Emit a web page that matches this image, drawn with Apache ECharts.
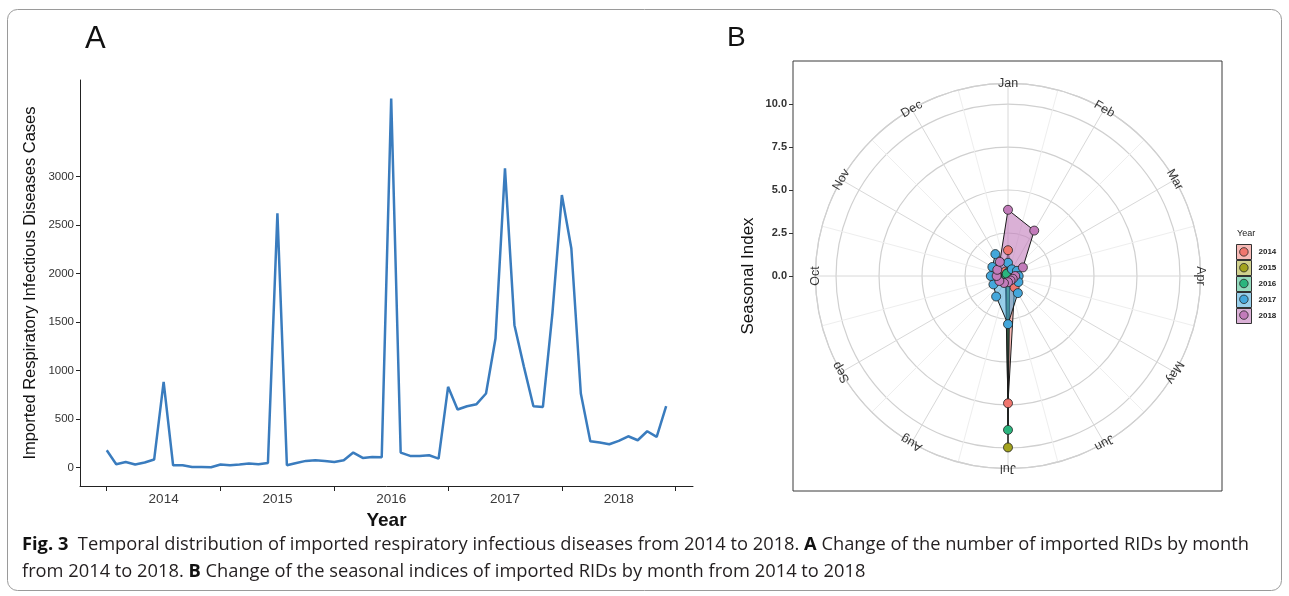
<!DOCTYPE html>
<html><head><meta charset="utf-8">
<script src="https://cdn.jsdelivr.net/npm/echarts@6/dist/echarts.min.js"></script>
<style>html,body{margin:0;padding:0;background:#fff;}#c{width:1289px;height:596px;}</style>
</head><body><div id="c"></div>
<script>
// ---- Panel A: monthly imported RID cases, Jul 2013 .. Jun 2018 (index 0 = Jul 2013)
const CASES = [179,34,58,31,52,83,884,24,24,7,5,3,
  31,24,31,41,34,48,2622,24,48,69,76,69,
  58,76,155,100,110,107,3808,155,120,120,127,93,
  833,599,633,654,764,1331,3086,1469,1039,633,626,1589,
  2811,2260,764,272,258,241,275,323,282,375,317,633];
const YEAR_LABELS = ['2014','2015','2016','2017','2018'];
const YEAR_LABEL_POS = [6,18,30,42,54];      // January of each year
const YEAR_TICK_POS = [0,12,24,36,48,60];     // July of each year
const Y_TICKS = [0,500,1000,1500,2000,2500,3000];

// ---- Panel B: seasonal indices by month
const MONTHS = ['Jan','Feb','Mar','Apr','May','Jun','Jul','Aug','Sep','Oct','Nov','Dec'];
const YEARS = ['2014','2015','2016','2017','2018'];
const SI_2014 = [1.50,0.35,0.30,0.28,0.45,0.77,7.40,0.30,0.22,0.20,0.25,0.30];
const SI_2015 = [0.15,0.12,0.10,0.10,0.12,0.15,9.97,0.15,0.12,0.10,0.10,0.12];
const SI_2016 = [0.20,0.15,0.12,0.12,0.15,0.18,8.95,0.18,0.15,0.12,0.12,0.15];
const SI_2017 = [0.77,0.45,0.60,0.62,0.70,1.15,2.80,1.38,0.98,1.00,1.05,1.47];
const SI_2018 = [3.85,3.05,1.00,0.42,0.32,0.30,0.36,0.47,0.58,0.66,0.72,0.95];
const SI_TICKS = [0,2.5,5,7.5,10];

const SI = [SI_2014,SI_2015,SI_2016,SI_2017,SI_2018];
const COLORS = ['#F0766E','#A3A31E','#2BB57E','#44A7DB','#C27BBA'];
const FILLS = ['rgba(240,118,110,0.5)','rgba(163,163,30,0.5)','rgba(43,181,126,0.5)','rgba(68,167,219,0.55)','rgba(194,123,186,0.6)'];
const R_MAX = 11.2, R_PX = 192.6, CX = 1008, CY = 276;
const HALF = 215 * R_MAX / R_PX;

const FONT = 'Liberation Sans, Arial, sans-serif';
const chart = echarts.init(document.getElementById('c'));

const series = [];
series.push({
  type:'line', xAxisIndex:0, yAxisIndex:0, data: CASES.map((v,i)=>[i,v]),
  showSymbol:false, lineStyle:{color:'#3A7CBE', width:2.5}, itemStyle:{color:'#3A7CBE'}, silent:true
});
SI.forEach((vals, k) => {
  series.push({
    type:'custom', name: YEARS[k], coordinateSystem:'polar', polarIndex:0, z:2, silent:true,
    data: vals.map((v,i)=>[v,i]),
    renderItem: function(params, api){
      if (params.dataIndex !== 0) return null;
      const pts = vals.map((v,i)=>api.coord([v,i]));
      return {type:'polygon', shape:{points:pts}, style:{fill:FILLS[k], stroke:'#1a1a1a', lineWidth:1}};
    }
  });
});
SI.forEach((vals, k) => {
  series.push({
    type:'scatter', name: YEARS[k], coordinateSystem:'polar', polarIndex:0, z:3, silent:true,
    data: vals.map((v,i)=>[v,i]), symbolSize:9,
    itemStyle:{color:COLORS[k], borderColor:'#222', borderWidth:0.8, opacity:1}
  });
});
series.push({
  type:'scatter', name:'months', coordinateSystem:'polar', polarIndex:0, z:4, silent:true,
  symbolSize:1, itemStyle:{color:'rgba(0,0,0,0)'},
  data: MONTHS.map((m,i)=>({value:[R_MAX,i], label:{rotate:-30*i}})),
  label:{show:true, position:'inside', formatter:(p)=>MONTHS[p.dataIndex], fontFamily:FONT, fontSize:12.5, color:'#000'}
});

const option = {
  animation:false,
  backgroundColor:'#fff',
  grid:[
    {left:80, top:80, width:613, height:406, show:false},
    {left:793, top:61, width:429, height:430, show:true, borderColor:'#3a3a3a', borderWidth:1, backgroundColor:'rgba(0,0,0,0)'}
  ],
  xAxis:[
    {type:'value', gridIndex:0, min:-2.82, max:61.83,
     axisLine:{show:true, onZero:false, lineStyle:{color:'#222', width:1}},
     axisTick:{show:true, length:5, lineStyle:{color:'#222'}, customValues: YEAR_TICK_POS},
     axisLabel:{customValues: YEAR_LABEL_POS, formatter:(v)=>YEAR_LABELS[YEAR_LABEL_POS.indexOf(Math.round(v))], fontFamily:FONT, fontSize:13.5, color:'#3a3a3a', margin:6},
     splitLine:{show:false},
     name:'Year', nameLocation:'middle', nameGap:23, nameTextStyle:{fontFamily:FONT, fontSize:19, fontWeight:'bold', color:'#111'}},
    {type:'value', gridIndex:1, min:0, max:1, show:false}
  ],
  yAxis:[
    {type:'value', gridIndex:0, min:-190, max:3998,
     axisLine:{show:true, onZero:false, lineStyle:{color:'#222', width:1}},
     axisTick:{show:true, length:4, lineStyle:{color:'#222'}, customValues: Y_TICKS},
     axisLabel:{customValues: Y_TICKS, formatter:(v)=>String(v), fontFamily:FONT, fontSize:11.5, color:'#333', margin:6},
     splitLine:{show:false},
     name:'Imported Respiratory Infectious Diseases Cases', nameLocation:'middle', nameRotate:90, nameGap:41,
     nameTextStyle:{fontFamily:FONT, fontSize:16.5, color:'#111'}},
    {type:'value', gridIndex:1, min:-HALF, max:HALF,
     axisLine:{show:false, onZero:false},
     axisTick:{show:true, length:4, lineStyle:{color:'#333'}, customValues: SI_TICKS},
     axisLabel:{customValues: SI_TICKS, formatter:(v)=>v.toFixed(1), fontFamily:FONT, fontSize:11, fontWeight:'bold', color:'#333', margin:6},
     splitLine:{show:false},
     name:'Seasonal Index', nameLocation:'middle', nameRotate:90, nameGap:36,
     nameTextStyle:{fontFamily:FONT, fontSize:17, color:'#111'}}
  ],
  polar:{center:[CX, CY], radius:R_PX},
  angleAxis:{type:'value', min:0, max:12, interval:1, startAngle:90, clockwise:true,
    axisLine:{show:true, lineStyle:{color:'#d0d0d0', width:1.2}},
    axisTick:{show:false}, axisLabel:{show:false},
    splitLine:{show:true, lineStyle:{color:'#d8d8d8', width:1}},
    minorTick:{show:false, splitNumber:2},
    minorSplitLine:{show:true, lineStyle:{color:'#eeeeee', width:1}}
  },
  radiusAxis:{type:'value', min:0, max:R_MAX, interval:2.5,
    axisLine:{show:false}, axisTick:{show:false}, axisLabel:{show:false},
    splitLine:{show:true, lineStyle:{color:'#d0d0d0', width:1.2}}
  },
  legend:[
    {orient:'vertical', left:1236, top:244, padding:0, itemWidth:15, itemHeight:15, itemGap:0, icon:'rect',
     selectedMode:false,
     textStyle:{fontFamily:FONT, fontSize:8, fontWeight:'bold', color:'#222', padding:[0,0,0,2]},
     data: YEARS.map((y,k)=>({name:y, itemStyle:{color:FILLS[k], borderColor:'#333', borderWidth:1}}))},
    {orient:'vertical', left:1239.25, top:247.25, padding:0, itemWidth:8.5, itemHeight:8.5, itemGap:6.5, icon:'circle',
     selectedMode:false, formatter:()=>'',
     textStyle:{fontSize:8},
     data: YEARS.map((y,k)=>({name:y, itemStyle:{color:COLORS[k], borderColor:'#222', borderWidth:0.8}}))}
  ],
  graphic:[
    {type:'rect', silent:true, z:-1, shape:{x:7.5, y:9.5, width:1274, height:581, r:10}, style:{fill:'none', stroke:'#9a9a9a', lineWidth:1}},
    {type:'text', left:85, top:24, silent:true, style:{text:'A', font:'31px ' + FONT, fill:'#111'}},
    {type:'text', left:727, top:24, silent:true, style:{text:'B', font:'28px ' + FONT, fill:'#111'}},
    {type:'text', left:1237, top:229, silent:true, style:{text:'Year', font:'9px ' + FONT, fill:'#222'}},
    {type:'text', left:22, top:536, silent:true, style:{
      text:'{b|Fig. 3}  Temporal distribution of imported respiratory infectious diseases from 2014 to 2018. {b|A} Change of the number of imported RIDs by month',
      font:'18.3px Open Sans', fill:'#231f20',
      rich:{b:{fontWeight:'bold', fontFamily:'Open Sans', fontSize:18.3, fill:'#111'}}}},
    {type:'text', left:22, top:563, silent:true, style:{
      text:'from 2014 to 2018. {b|B} Change of the seasonal indices of imported RIDs by month from 2014 to 2018',
      font:'18.3px Open Sans', fill:'#231f20',
      rich:{b:{fontWeight:'bold', fontFamily:'Open Sans', fontSize:18.3, fill:'#111'}}}}
  ],
  series: series
};
chart.setOption(option);
</script></body></html>
